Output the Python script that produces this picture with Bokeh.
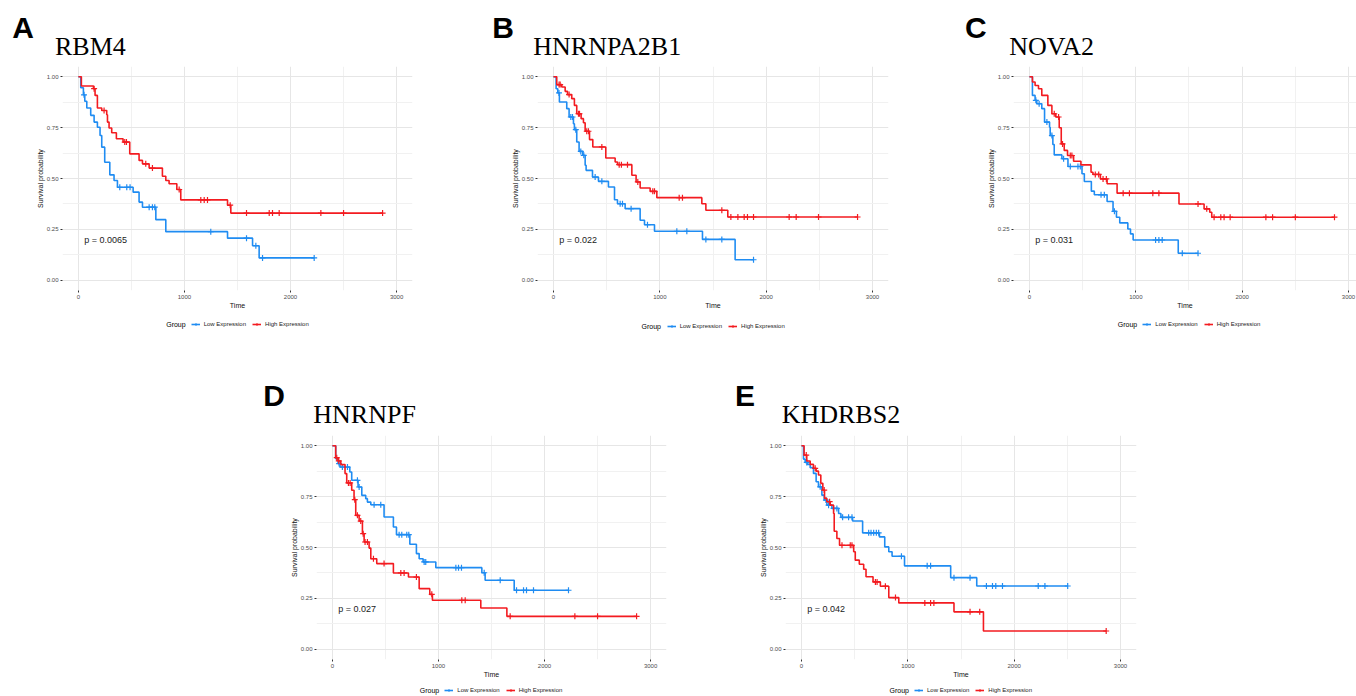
import numpy as np
from bokeh.plotting import figure
from bokeh.models import Legend, LegendItem, FixedTicker, Spacer, NumeralTickFormatter, Div, Label
from bokeh.layouts import row, column
from bokeh.embed import file_html
from bokeh.resources import INLINE
from bokeh.core.properties import value

# ---------------- data ----------------
genes = ["RBM4", "HNRNPA2B1", "NOVA2", "HNRNPF", "KHDRBS2"]
letters = ["A", "B", "C", "D", "E"]
pvals = ["p = 0.0065", "p = 0.022", "p = 0.031", "p = 0.027", "p = 0.042"]
groups = ["Low Expression", "High Expression"]
legend_title = "Group"
x_ticks = [0, 1000, 2000, 3000]
y_ticks = [0.0, 0.25, 0.5, 0.75, 1.0]

# Panel A - RBM4
A_low_t = [22, 47, 60, 79, 116, 148, 179, 204, 220, 248, 296, 336, 368, 516, 572, 604, 730, 824, 1406, 1642, 1704]
A_low_s = [0.946, 0.911, 0.879, 0.846, 0.810, 0.777, 0.752, 0.711, 0.654, 0.580, 0.518, 0.490, 0.457, 0.433, 0.384, 0.359, 0.298, 0.239, 0.207, 0.170, 0.110]
A_low_c = [53, 390, 456, 487, 667, 698, 720, 1248, 1585, 1673, 1736, 2223]
A_high_t = [28, 142, 157, 179, 220, 267, 274, 289, 314, 358, 421, 484, 572, 604, 667, 792, 824, 855, 928, 965, 1406, 1437]
A_high_s = [0.954, 0.941, 0.908, 0.846, 0.834, 0.813, 0.777, 0.748, 0.725, 0.695, 0.679, 0.621, 0.589, 0.572, 0.551, 0.511, 0.490, 0.474, 0.446, 0.395, 0.369, 0.330]
A_high_c = [148, 242, 437, 453, 635, 698, 950, 1154, 1186, 1217, 1431, 1585, 1799, 1830, 1893, 2286, 2500, 2868]

# Panel B - HNRNPA2B1
B_low_t = [25, 41, 56, 125, 147, 188, 197, 219, 241, 276, 298, 307, 367, 423, 517, 574, 602, 674, 815, 856, 950, 1401, 1708]
B_low_s = [0.941, 0.920, 0.876, 0.843, 0.802, 0.769, 0.740, 0.679, 0.633, 0.614, 0.565, 0.540, 0.507, 0.486, 0.458, 0.396, 0.376, 0.352, 0.295, 0.273, 0.241, 0.201, 0.101]
B_low_c = [52, 163, 179, 210, 257, 285, 392, 455, 627, 649, 730, 884, 1160, 1254, 1433, 1583, 1881]
B_high_t = [31, 78, 110, 132, 172, 197, 219, 260, 282, 298, 339, 370, 492, 580, 602, 737, 777, 815, 909, 972, 1395, 1433, 1639]
B_high_s = [0.961, 0.949, 0.928, 0.912, 0.892, 0.859, 0.818, 0.794, 0.774, 0.732, 0.691, 0.655, 0.601, 0.581, 0.568, 0.516, 0.483, 0.453, 0.437, 0.406, 0.376, 0.344, 0.311]
B_high_c = [53, 63, 147, 235, 245, 313, 329, 455, 618, 639, 696, 793, 934, 950, 1182, 1213, 1583, 1668, 1734, 1793, 1824, 1881, 2216, 2282, 2492, 2859]

# Panel C - NOVA2
C_low_t = [28, 53, 69, 116, 142, 189, 195, 220, 233, 305, 362, 494, 516, 582, 610, 730, 786, 818, 849, 925, 950, 975, 1399]
C_low_s = [0.908, 0.884, 0.867, 0.843, 0.777, 0.752, 0.711, 0.667, 0.616, 0.597, 0.559, 0.523, 0.485, 0.438, 0.420, 0.387, 0.339, 0.310, 0.282, 0.252, 0.228, 0.198, 0.133]
C_low_c = [60, 91, 164, 211, 321, 384, 456, 478, 673, 704, 799, 1186, 1217, 1248, 1437, 1585]
C_high_t = [28, 53, 85, 116, 173, 211, 248, 280, 299, 327, 358, 415, 484, 579, 597, 667, 730, 824, 1406, 1642, 1695, 1714]
C_high_s = [0.974, 0.957, 0.941, 0.908, 0.859, 0.818, 0.802, 0.749, 0.670, 0.638, 0.613, 0.585, 0.567, 0.531, 0.520, 0.498, 0.474, 0.428, 0.375, 0.351, 0.334, 0.310]
C_high_c = [233, 274, 311, 384, 399, 619, 651, 692, 723, 881, 940, 1160, 1217, 1585, 1667, 1736, 1799, 1830, 1887, 2223, 2286, 2500, 2868]

# Panel D - HNRNPF
D_low_t = [31, 53, 72, 164, 182, 242, 277, 314, 330, 362, 487, 575, 604, 730, 792, 818, 855, 975, 1409, 1440, 1714]
D_low_s = [0.936, 0.912, 0.895, 0.871, 0.830, 0.797, 0.756, 0.740, 0.723, 0.710, 0.650, 0.601, 0.563, 0.516, 0.470, 0.445, 0.429, 0.401, 0.376, 0.339, 0.290]
D_low_c = [63, 94, 142, 236, 252, 393, 456, 629, 654, 701, 720, 865, 880, 1164, 1189, 1217, 1431, 1582, 1736, 1802, 1830, 1896, 2226]
D_high_t = [31, 53, 79, 119, 135, 182, 204, 220, 252, 283, 299, 346, 362, 418, 575, 717, 818, 918, 943, 1399, 1645]
D_high_s = [0.941, 0.925, 0.907, 0.863, 0.817, 0.781, 0.735, 0.658, 0.630, 0.568, 0.527, 0.497, 0.445, 0.421, 0.375, 0.355, 0.298, 0.270, 0.241, 0.203, 0.162]
D_high_c = [41, 60, 151, 167, 211, 236, 267, 290, 308, 330, 387, 487, 645, 676, 792, 937, 1220, 1252, 1676, 2286, 2500, 2868]

# Panel E - KHDRBS2
E_low_t = [19, 35, 57, 82, 113, 138, 160, 192, 214, 239, 286, 349, 371, 481, 575, 733, 783, 821, 852, 969, 1403, 1648]
E_low_s = [0.934, 0.918, 0.908, 0.892, 0.864, 0.823, 0.798, 0.757, 0.733, 0.708, 0.692, 0.667, 0.648, 0.630, 0.572, 0.552, 0.503, 0.479, 0.457, 0.410, 0.352, 0.311]
E_low_c = [50, 176, 230, 255, 302, 333, 387, 443, 475, 632, 654, 679, 704, 726, 940, 1182, 1214, 1434, 1585, 1739, 1796, 1827, 1890, 2226, 2289, 2503]
E_high_t = [25, 50, 82, 113, 138, 160, 182, 201, 217, 239, 270, 302, 308, 333, 358, 491, 506, 544, 585, 607, 673, 742, 821, 915, 1434, 1711]
E_high_s = [0.954, 0.925, 0.908, 0.889, 0.875, 0.856, 0.815, 0.782, 0.741, 0.725, 0.708, 0.667, 0.580, 0.544, 0.511, 0.479, 0.438, 0.418, 0.393, 0.356, 0.331, 0.310, 0.254, 0.228, 0.184, 0.090]
E_high_c = [45, 129, 214, 265, 381, 459, 475, 695, 711, 789, 884, 1160, 1214, 1245, 1585, 1676, 2865]

BLUE = "#1F8CF2"
RED = "#F31B20"
SANS = "Liberation Sans"
SERIF = "Liberation Serif"
COLORS = [BLUE, RED]


def km_series(p, t, s, c, color):
    tt = np.array([0] + list(t), dtype=float)
    ss = np.array([1.0] + list(s), dtype=float)
    end = max(max(c), tt[-1])
    xs = list(tt) + [end]
    ys = list(ss) + [ss[-1]]
    p.step(xs, ys, mode="after", line_color=color, line_width=1.6)
    idx = np.searchsorted(tt, np.array(c, dtype=float), side="right") - 1
    p.scatter(c, ss[idx], marker="cross", size=6, line_color=color, line_width=1.2)


def km_plot(i, low, high, bl, fw, br, x_end):
    p = figure(frame_width=fw, frame_height=224, x_range=(-150, x_end), y_range=(-0.05, 1.05),
               output_backend="svg", toolbar_location=None,
               min_border_left=bl, min_border_top=6, min_border_right=br, min_border_bottom=24,
               background_fill_color="white", border_fill_color="white")
    p.outline_line_color = None
    p.xaxis.ticker = FixedTicker(ticks=x_ticks, minor_ticks=[500, 1500, 2500])
    p.yaxis.ticker = FixedTicker(ticks=y_ticks, minor_ticks=[0.125, 0.375, 0.625, 0.875])
    p.yaxis.formatter = NumeralTickFormatter(format="0.00")
    p.xaxis.axis_label = "Time"
    p.yaxis.axis_label = "Survival probability"
    for ax in (p.xaxis[0], p.yaxis[0]):
        ax.axis_line_color = None
        ax.major_tick_out = 2
        ax.major_tick_in = 0
        ax.major_tick_line_color = "#333333"
        ax.minor_tick_line_color = None
        ax.major_label_text_font_size = "6px"
        ax.major_label_text_color = "#4D4D4D"
        ax.major_label_text_font = SANS
        ax.major_label_standoff = 0
        ax.axis_label_text_font_size = "7px"
        ax.axis_label_text_font_style = "normal"
        ax.axis_label_text_font = SANS
        ax.axis_label_text_color = "#111111"
        ax.axis_label_standoff = 0
    for g in (p.xgrid[0], p.ygrid[0]):
        g.grid_line_color = "#E6E6E6"
        g.grid_line_width = 1
        g.minor_grid_line_color = "#F1F1F1"
        g.minor_grid_line_width = 1

    km_series(p, *low, BLUE)
    km_series(p, *high, RED)

    p.text(x=[55], y=[0.2], text=[pvals[i]], text_font=value(SANS), text_font_size="9px",
           text_baseline="middle", text_align="left", text_color="#1A1A1A")
    return p


def legend_fig(width, height, group_x, items_x, center_from_bottom):
    # group_x / items_x are measured from the frame's left edge (frames align with the plot above)
    lf = figure(width=width, height=height, x_range=(0, 1), y_range=(0, 1),
                x_axis_type=None, y_axis_type=None, output_backend="svg",
                toolbar_location=None, min_border=0, background_fill_color="white",
                border_fill_color="white")
    lf.outline_line_color = None
    lf.grid.visible = False
    items = []
    for name, col in zip(groups, COLORS):
        # key glyphs only: placed outside the (0, 1) view, so nothing shows in the frame
        ln = lf.line([-5, -4], [-5, -5], line_color=col, line_width=1.6)
        sc = lf.scatter([-5], [-5], marker="cross", size=6, line_color=col, line_width=1.2)
        items.append(LegendItem(label=name, renderers=[ln, sc]))
    leg = Legend(items=items, location=(items_x, center_from_bottom - 3.5), orientation="horizontal",
                 glyph_width=9, glyph_height=6, label_standoff=4, spacing=6,
                 padding=0, margin=0, label_text_font=SANS, label_text_font_size="6px",
                 label_height=7, label_text_color="#222222",
                 border_line_color=None, background_fill_alpha=0)
    lf.add_layout(leg)
    lf.add_layout(Label(x=group_x, y=center_from_bottom, x_units="screen", y_units="screen",
                        text=legend_title, text_font=SANS, text_font_size="7px",
                        text_baseline="middle", text_color="black"))
    return lf


def strip(width, height, items):
    spans = []
    for (txt, x, top, fam, size, weight) in items:
        spans.append(
            f'<span style="position:absolute;left:{x}px;top:{top}px;font-family:\'{fam}\';'
            f'font-size:{size}px;font-weight:{weight};line-height:{size}px;color:#000;'
            f'white-space:nowrap;">{txt}</span>')
    html = (f'<div style="position:relative;width:{width}px;height:{height}px;overflow:visible;">'
            + "".join(spans) + "</div>")
    return Div(text=html, width=width, height=height, margin=(0, 0, 0, 0))


# letter baseline offsets: Liberation Sans 30px -> ~25.4 px, Liberation Serif 26px -> ~21.8 px
top_strip = strip(1356, 60, [
    (letters[0], 12.3, 12.9, SANS, 30, "bold"),
    (genes[0], 55, 34.2, SERIF, 26, "normal"),
    (letters[1], 492.3, 12.9, SANS, 30, "bold"),
    (genes[1], 533.3, 34.2, SERIF, 26, "normal"),
    (letters[2], 965, 12.9, SANS, 30, "bold"),
    (genes[2], 1009.3, 34.2, SERIF, 26, "normal"),
])
bottom_strip = strip(1356, 67, [
    (letters[3], 263.3, 18.6, SANS, 30, "bold"),
    (genes[3], 313.3, 39.5, SERIF, 26, "normal"),
    (letters[4], 735, 18.6, SANS, 30, "bold"),
    (genes[4], 781.7, 39.5, SERIF, 26, "normal"),
])

pA = km_plot(0, (A_low_t, A_low_s, A_low_c), (A_high_t, A_high_s, A_high_c), 62, 350, 63, 3150)
pB = km_plot(1, (B_low_t, B_low_s, B_low_c), (B_high_t, B_high_s, B_high_c), 62, 351, 62, 3150)
pC = km_plot(2, (C_low_t, C_low_s, C_low_c), (C_high_t, C_high_s, C_high_c), 63, 343, 0, 3075)
pD = km_plot(3, (D_low_t, D_low_s, D_low_c), (D_high_t, D_high_s, D_high_c), 66, 350, 54, 3150)
pE = km_plot(4, (E_low_t, E_low_s, E_low_c), (E_high_t, E_high_s, E_high_c), 65, 351, 54, 3150)

lA = legend_fig(475, 48, 103.7, 128.7, 38)
lB = legend_fig(475, 48, 104, 129.7, 36.5)
lC = legend_fig(406, 48, 104.3, 129.3, 38)
lD = legend_fig(470, 13, 103.3, 128.3, 6)
lE = legend_fig(470, 13, 104, 129, 6)

layout = column(top_strip,
                row(column(pA, lA), column(pB, lB), column(pC, lC)),
                bottom_strip,
                row(Spacer(width=250, height=267), column(pD, lD), column(pE, lE)),
                spacing=0)
open("out.html", "w").write(file_html(layout, INLINE))
